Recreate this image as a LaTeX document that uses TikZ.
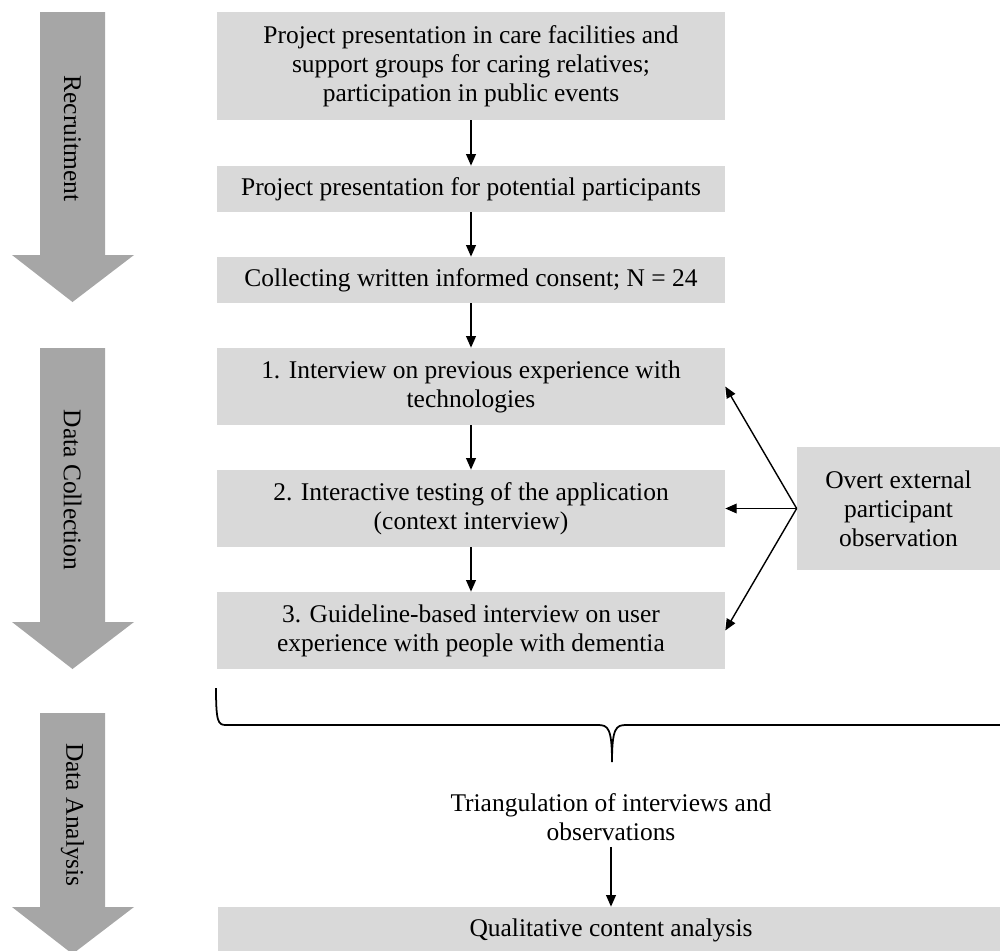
\documentclass[tikz,border=0pt]{standalone}
\usepackage{fontspec}
\setmainfont{Liberation Serif}
\usepackage{tikz}
\usetikzlibrary{arrows.meta}

\definecolor{boxgray}{HTML}{D9D9D9}
\definecolor{phasegray}{HTML}{A6A6A6}

\tikzset{
    stepbox/.style={fill=boxgray, align=center, inner sep=2pt,
        minimum width=10.16cm, font=\fontsize{14.5}{16.5}\selectfont},
    flow/.style={-{Triangle[length=6.5pt,width=5.5pt]}, line width=0.8pt}
}

\begin{document}
\begin{tikzpicture}[x=0.02cm, y=-0.02cm]
    % Fix the page size
    \useasboundingbox (0,0) rectangle (1000,950);
    \clip (0,0) rectangle (1000,950);

    % Phase arrows on the left
    \foreach \top/\head/\tip/\lab in {12/255/302/Recruitment,
            348/622/669/Data Collection, 713/907/954/Data Analysis} {
        \fill[phasegray] (40,\top) -- (105,\top) -- (105,\head) -- (134,\head)
            -- (72.5,\tip) -- (12,\head) -- (40,\head) -- cycle;
        \pgfmathsetmacro{\mid}{(\top+\head)/2+5}
        \node[rotate=-90, font=\fontsize{14.5}{16.5}\selectfont] at (72.5,\mid) {\lab};
    }

    % Recruitment steps
    \node[stepbox, minimum height=2.16cm] (recruit) at (471,66)
        {Project presentation in care facilities and\\
         support groups for caring relatives;\\
         participation in public events};
    \node[stepbox, minimum height=0.92cm] (present) at (471,189)
        {Project presentation for potential participants};
    \node[stepbox, minimum height=0.92cm] (consent) at (471,280)
        {Collecting written informed consent; N = 24};

    % Data collection steps
    \node[stepbox, minimum height=1.54cm] (interview) at (471,386.5)
        {1. Interview on previous experience with\\ technologies};
    \node[stepbox, minimum height=1.54cm] (testing) at (471,508.5)
        {2. Interactive testing of the application\\ (context interview)};
    \node[stepbox, minimum height=1.54cm] (guideline) at (471,630.5)
        {3. Guideline-based interview on user\\ experience with people with dementia};

    % Observation box
    \node[stepbox, minimum width=4.06cm, minimum height=2.46cm] (observe) at (898.5,508.5)
        {Overt external\\ participant\\ observation};

    % Vertical flow
    \draw[flow] (recruit) -- (present);
    \draw[flow] (present) -- (consent);
    \draw[flow] (consent) -- (interview);
    \draw[flow] (interview) -- (testing);
    \draw[flow] (testing) -- (guideline);

    % Observation feeds all interviews
    \draw[flow] (observe.west) -- (interview.east);
    \draw[flow] (observe.west) -- (testing.east);
    \draw[flow] (observe.west) -- (guideline.east);

    % Brace below the data collection
    \draw[line width=1pt] (216,688) .. controls (216,722) and (218,725) .. (226,725)
        -- (598,725) .. controls (608,725) and (612,728) .. (612,762)
        .. controls (612,728) and (616,725) .. (626,725)
        -- (998,725) .. controls (1006,725) and (1008,722) .. (1008,688);

    % Data analysis
    \node[align=center, font=\fontsize{14.5}{16.5}\selectfont] (triang) at (611,817)
        {Triangulation of interviews and\\ observations};
    \node[stepbox, minimum width=15.72cm, minimum height=0.92cm] (analysis) at (611,930)
        {Qualitative content analysis};
    \draw[flow] (triang) -- (analysis);
\end{tikzpicture}
\end{document}
